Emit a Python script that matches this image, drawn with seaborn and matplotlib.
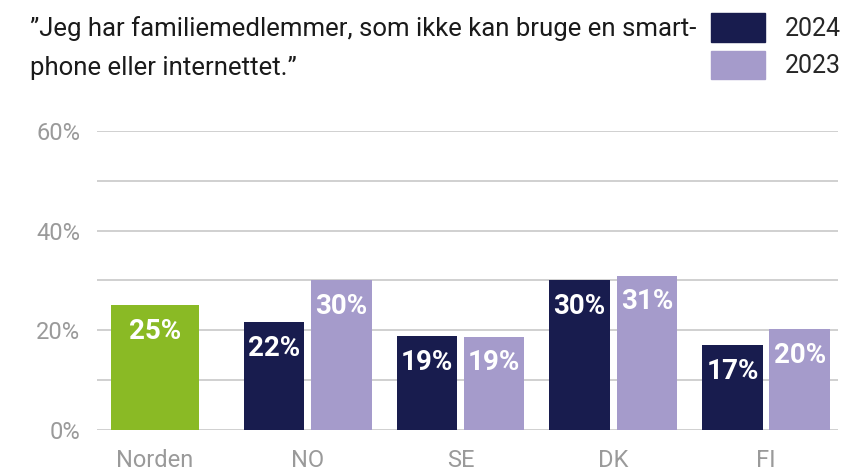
import matplotlib.pyplot as plt
import seaborn as sns
import pandas as pd

# data
groups = ["Norden", "NO", "SE", "DK", "FI"]
countries = ["NO", "SE", "DK", "FI"]
years = ["2024", "2023"]
norden_value = [25]
values_2024 = [21.6, 18.8, 30, 17]
values_2023 = [30, 18.7, 31, 20.2]
y_ticks = [0, 10, 20, 30, 40, 50, 60]
y_tick_labels = ["0%", "", "20%", "", "40%", "", "60%"]
title = "”Jeg har familiemedlemmer, som ikke kan bruge en smart-\nphone eller internettet.”"

green = "#8aba25"
navy = "#181c4e"
lavender = "#a59bcb"

df = pd.DataFrame({
    "land": countries * 2,
    "andel": values_2024 + values_2023,
    "aar": [years[0]] * 4 + [years[1]] * 4,
})

sns.set_theme(style="white")
plt.rcParams["font.family"] = ["Roboto", "DejaVu Sans"]

fig, ax = plt.subplots(figsize=(8.49, 4.73), dpi=100)
fig.subplots_adjust(left=0.114, right=0.987, bottom=0.091, top=0.723)

sns.barplot(x=["Norden"], y=norden_value, order=groups, color=green,
            width=0.58, saturation=1, linewidth=0, ax=ax)
sns.barplot(data=df, x="land", y="andel", hue="aar", order=groups, hue_order=years,
            palette=[navy, lavender], width=0.88, gap=0.1, saturation=1,
            linewidth=0, legend=False, ax=ax)

# value labels inside the top of each bar
for p in ax.patches:
    h = p.get_height()
    if h > 0:
        ax.text(p.get_x() + p.get_width() / 2, h - 5.2, f"{round(h)}%",
                ha="center", va="center", color="white", fontsize=20, fontweight="bold")

ax.set_ylim(0, 60)
ax.set_xlim(-0.38, 4.47)
ax.set_yticks(y_ticks)
ax.set_yticklabels(y_tick_labels)
ax.set_xlabel("")
ax.set_ylabel("")
ax.grid(axis="y", color="#c8c8c8", linewidth=1.2)
ax.set_axisbelow(True)
sns.despine(ax=ax, left=True, bottom=True)
ax.tick_params(axis="y", labelsize=17, colors="#9a9a9a", length=0, pad=12)
ax.tick_params(axis="x", labelsize=17, colors="#9a9a9a", length=0, pad=14)

fig.text(30 / 849, 1 - 16 / 473, title, ha="left", va="top", fontsize=18.5,
         color="#1a1a1a", linespacing=1.8)

handles = [plt.Rectangle((0, 0), 1, 1, color=navy), plt.Rectangle((0, 0), 1, 1, color=lavender)]
fig.legend(handles, years, loc="upper left", bbox_to_anchor=(711 / 849, 1 - 13 / 473),
           frameon=False, fontsize=18, handlelength=2.15, handleheight=1.38,
           handletextpad=0.8, labelspacing=0.36, borderpad=0, borderaxespad=0)

fig.savefig("out.png", dpi=100)
